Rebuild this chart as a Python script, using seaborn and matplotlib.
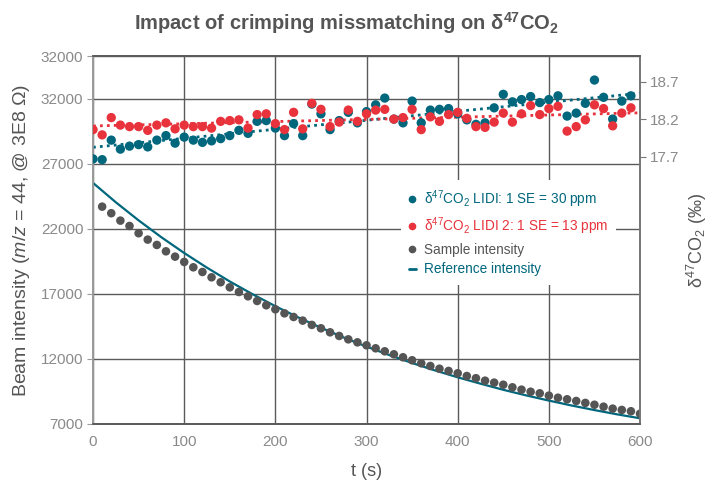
import numpy as np
import matplotlib
matplotlib.use("Agg")
import matplotlib.pyplot as plt
from matplotlib.lines import Line2D
import seaborn as sns

sns.set_theme(style="white")
plt.rcParams["font.family"] = ["Liberation Sans", "DejaVu Sans"]
plt.rcParams["mathtext.fontset"] = "custom"
plt.rcParams["mathtext.default"] = "regular"
plt.rcParams["mathtext.rm"] = "Liberation Sans"
plt.rcParams["mathtext.it"] = "Liberation Sans:italic"

TEAL = "#00677d"
RED = "#e8323c"
DOT = "#555555"
TXT = "#555555"
TICK = "#8a8a8a"

# delta47 runs, one value every 10 s
t_delta = np.arange(0, 600, 10)
lidi1 = [17.67, 17.66, 17.92, 17.80, 17.84, 17.86, 17.83, 17.92, 17.98, 17.88,
         17.96, 17.92, 17.89, 17.91, 17.94, 17.98, 18.05, 18.01, 18.17, 18.18,
         18.08, 17.98, 18.14, 17.98, 18.40, 18.27, 18.06, 18.18, 18.29, 18.15,
         18.30, 18.39, 18.48, 18.20, 18.15, 18.44, 18.15, 18.32, 18.33, 18.34,
         18.27, 18.19, 18.13, 18.15, 18.35, 18.53, 18.43, 18.46, 18.50, 18.42,
         18.46, 18.51, 18.24, 18.28, 18.41, 18.72, 18.49, 18.20, 18.44, 18.51]
lidi2 = [18.06, 17.99, 18.22, 18.12, 18.10, 18.10, 18.05, 18.12, 18.15, 18.07,
         18.12, 18.10, 18.10, 18.08, 18.17, 18.18, 18.19, 18.08, 18.26, 18.27,
         18.14, 18.06, 18.29, 18.07, 18.41, 18.33, 18.10, 18.16, 18.32, 18.17,
         18.27, 18.32, 18.33, 18.20, 18.22, 18.33, 18.06, 18.23, 18.17, 18.26,
         18.29, 18.21, 18.10, 18.09, 18.16, 18.28, 18.16, 18.27, 18.38, 18.26,
         18.34, 18.37, 18.04, 18.10, 18.19, 18.39, 18.34, 18.11, 18.28, 18.35]

# beam intensities
t_sample = np.arange(10, 610, 10)
sample = [23715, 23210, 22640, 22230, 21670, 21180, 20770, 20280, 19870, 19460,
          19050, 18690, 18280, 17900, 17510, 17150, 16820, 16460, 16130, 15820,
          15510, 15230, 14950, 14620, 14360, 14050, 13770, 13510, 13280, 13050,
          12820, 12590, 12360, 12130, 11900, 11670, 11460, 11250, 11080, 10900,
          10690, 10520, 10330, 10180, 10020, 9820, 9640, 9480, 9360, 9180,
          9020, 8900, 8770, 8620, 8480, 8330, 8180, 8080, 7980, 7790]
t_ref = np.arange(0, 625, 25)
reference = [25540, 24050, 22660, 21360, 20150, 19020, 17960, 16980, 16060,
             15200, 14400, 13650, 12950, 12300, 11690, 11120, 10590, 10100,
             9630, 9200, 8800, 8420, 8070, 7740, 7440]

left_ticks = [7000, 12000, 17000, 22000, 27000, 32000, 35300]
left_labels = ["7000", "12000", "17000", "22000", "27000", "32000", "32000"]
right_ticks = [17.7, 18.2, 18.7]
x_ticks = [0, 100, 200, 300, 400, 500, 600]

fig = plt.figure(figsize=(7.08, 4.8), dpi=100)
ax = fig.add_axes([0.1314, 0.1167, 0.7726, 0.7666])

ax.set_xlim(0, 600)
ax.set_ylim(7000, 35300)
ax.set_xticks(x_ticks)
ax.set_yticks(left_ticks)
ax.set_yticklabels(left_labels)
ax.grid(True, color="#5a5a5a", lw=1)
ax.set_axisbelow(True)

sns.lineplot(x=t_ref, y=reference, ax=ax, color=TEAL, lw=1.6, zorder=3)
sns.scatterplot(x=t_sample, y=sample, ax=ax, color=DOT, s=38,
                edgecolor="none", zorder=4)

ax2 = ax.twinx()
ax2.set_ylim(14.14, 19.04)
ax2.set_yticks(right_ticks)
ax2.grid(False)
dotted = (0, (1, 1.5))
sns.regplot(x=t_delta, y=lidi1, ax=ax2, scatter=False, ci=None, truncate=False,
            color=TEAL, line_kws=dict(ls=dotted, lw=2, zorder=2))
sns.regplot(x=t_delta, y=lidi2, ax=ax2, scatter=False, ci=None, truncate=False,
            color=RED, line_kws=dict(ls=dotted, lw=2, zorder=2))
sns.scatterplot(x=t_delta, y=lidi1, ax=ax2, color=TEAL, s=45,
                edgecolor="none", zorder=3)
sns.scatterplot(x=t_delta, y=lidi2, ax=ax2, color=RED, s=45,
                edgecolor="none", zorder=3)
ax2.set_xlim(0, 600)

for a in (ax, ax2):
    for side in ("top", "bottom", "right"):
        a.spines[side].set_color("#5a5a5a")
    a.spines["left"].set_color("#9a9a9a")
    a.spines["right"].set_color("#777777")

ax.tick_params(axis="y", length=4, width=0.8, color="#9a9a9a",
               labelcolor=TICK, labelsize=11, pad=3)
ax.tick_params(axis="x", length=0, labelcolor=TICK, labelsize=11, pad=8)
ax2.tick_params(axis="y", length=4, width=0.8, color="#777777",
                labelcolor=TICK, labelsize=11, pad=3)

ax.set_xlabel("t (s)", fontsize=13, color=TXT, labelpad=10)
ax.set_ylabel(r"Beam intensity ($\mathit{m/z}$ = 44, @ 3E8 Ω)",
              fontsize=14, color=TXT, labelpad=6)
ax2.set_ylabel("δ$^{47}$CO$_2$ (‰)", fontsize=13, color=TXT, labelpad=4)

fig.text(0.49, 0.952, "Impact of crimping missmatching on δ$^{47}$CO$_2$",
         ha="center", va="center", fontsize=14.5, fontweight="bold", color=TXT)

handles = [
    Line2D([], [], ls="none", marker="o", ms=4.5, color=TEAL),
    Line2D([], [], ls="none", marker="o", ms=4.5, color=RED),
    Line2D([], [], ls="none", marker="o", ms=4.5, color=DOT),
    Line2D([], [], color=TEAL, lw=2),
]
labels = [
    "δ$^{47}$CO$_2$ LIDI: 1 SE = 30 ppm",
    "δ$^{47}$CO$_2$ LIDI 2: 1 SE = 13 ppm",
    "Sample intensity",
    "Reference intensity",
]
leg = ax2.legend(handles, labels, loc="upper left", bbox_to_anchor=(0.55, 0.682),
                 frameon=True, facecolor="white", edgecolor="none",
                 framealpha=1, fancybox=False, fontsize=9.8,
                 labelcolor=[TEAL, RED, TXT, TEAL], handlelength=0.5,
                 handletextpad=0.6, labelspacing=0.42, borderpad=0.6)

fig.savefig("out.png", dpi=100)
